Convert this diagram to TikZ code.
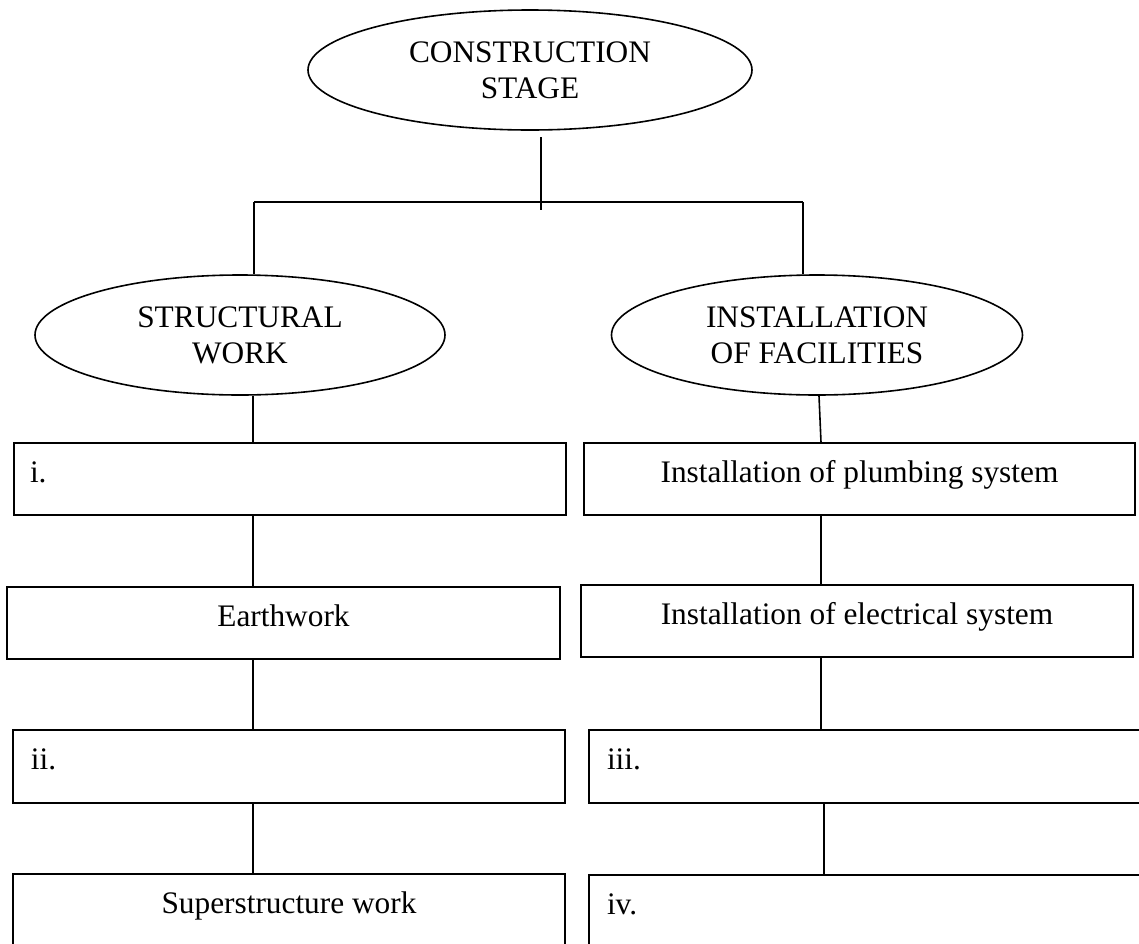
\documentclass[tikz,border=0pt]{standalone}
\usepackage{fontspec}
\setmainfont{Liberation Serif}
\usetikzlibrary{shapes.geometric}
\tikzset{
  conn/.style={draw=black, line width=1.2pt},
  oval/.style={ellipse, draw=black, line width=1.2pt, inner sep=0pt, align=center,
    font=\fontsize{23.5}{27}\selectfont},
  stagebox/.style={rectangle, draw=black, line width=1.2pt, inner sep=0pt,
    font=\fontsize{23.5}{27}\selectfont, text height=16pt, text depth=11pt},
  leftbox/.style={stagebox, inner xsep=12pt, align=left},
}
\begin{document}
\begin{tikzpicture}[x=0.75pt, y=-0.75pt]
\useasboundingbox (0,0) rectangle (1139,943);

% ellipses
\node[oval, minimum width=333pt, minimum height=90pt] (top) at (530,70) {CONSTRUCTION\\STAGE};
\node[oval, minimum width=307.5pt, minimum height=90pt] (sw) at (240,335) {STRUCTURAL\\WORK};
\node[oval, minimum width=308.25pt, minimum height=90pt] (if) at (817,335) {INSTALLATION\\OF FACILITIES};

% left column boxes
\node[leftbox, minimum width=414pt, minimum height=54pt, text width=390pt] (bi) at (290,479) {i.};
\node[stagebox, minimum width=414.75pt, minimum height=54pt] (be) at (283.5,623) {Earthwork};
\node[leftbox, minimum width=414pt, minimum height=54.75pt, text width=387pt] (bii) at (289,766.5) {ii.};
\node[stagebox, minimum width=414pt, minimum height=54.75pt] (bs) at (289,910.5) {Superstructure work};

% right column boxes
\node[stagebox, minimum width=413.25pt, minimum height=54pt] (bp) at (859.5,479) {Installation of plumbing system};
\node[stagebox, minimum width=414pt, minimum height=54pt] (bel) at (857,621) {Installation of electrical system};
\node[leftbox, minimum width=417pt, minimum height=54.75pt, text width=390pt] (biii) at (867,766.5) {iii.};
\node[leftbox, minimum width=417pt, minimum height=54.75pt, text width=390pt] (biv) at (867,911.5) {iv.};

% helper coordinates
\coordinate (tx) at (541,0);
\coordinate (tj) at (541,210);
\coordinate (hl) at (254,202);
\coordinate (hr) at (803,202);
\coordinate (lx) at (253,0);
\coordinate (rx0) at (819,0);
\coordinate (rx) at (821,0);
\coordinate (rx2) at (824,0);

% connectors
\draw[conn] ([yshift=-5pt]top.south -| tx) -- (tj);
\draw[conn] (hl) -- (hr);
\draw[conn] (hl) -- (sw.north -| hl);
\draw[conn] (hr) -- (if.north -| hr);

\draw[conn] (sw.south -| lx) -- (bi.north -| lx);
\draw[conn] (bi.south -| lx) -- (be.north -| lx);
\draw[conn] (be.south -| lx) -- (bii.north -| lx);
\draw[conn] (bii.south -| lx) -- (bs.north -| lx);

\draw[conn] (if.south -| rx0) -- (bp.north -| rx);
\draw[conn] (bp.south -| rx) -- (bel.north -| rx);
\draw[conn] (bel.south -| rx) -- (biii.north -| rx);
\draw[conn] (biii.south -| rx2) -- (biv.north -| rx2);
\end{tikzpicture}
\end{document}
